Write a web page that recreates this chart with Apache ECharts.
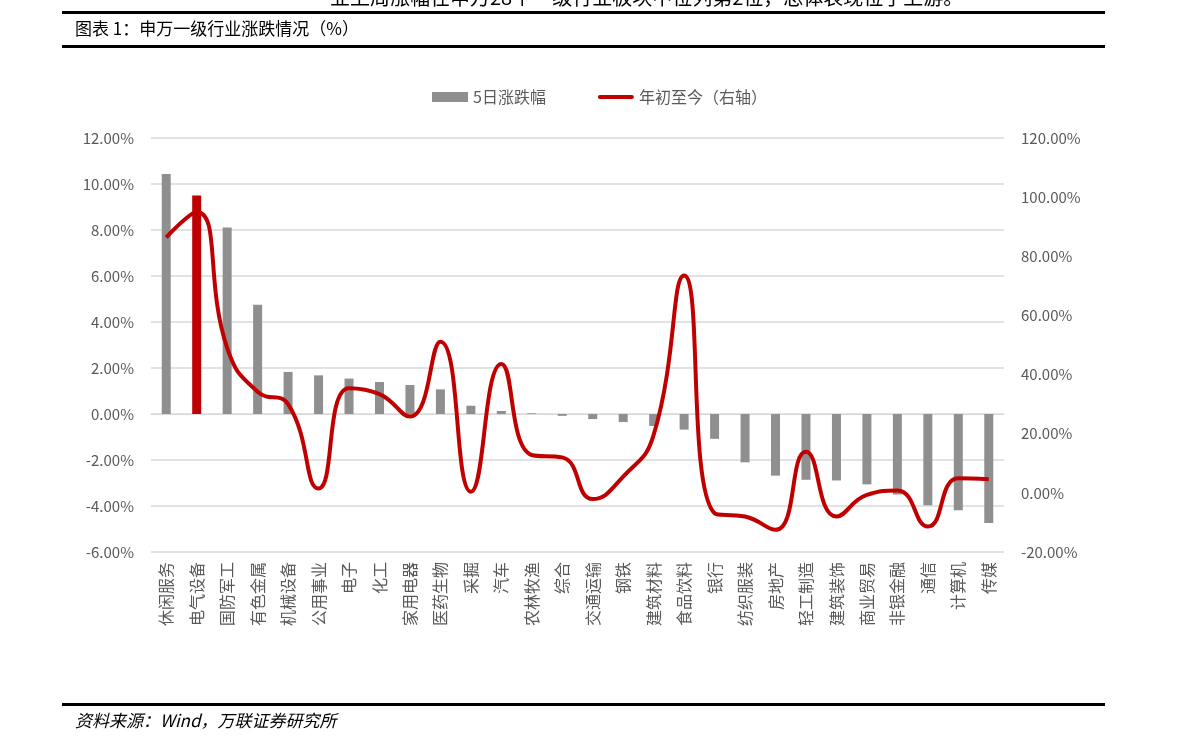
<!DOCTYPE html>
<html>
<head>
<meta charset="utf-8">
<script src="https://cdn.jsdelivr.net/npm/echarts@6/dist/echarts.min.js"></script>
<style>
html,body{margin:0;padding:0;background:#fff;}
#c{width:1191px;height:753px;}
</style>
</head>
<body>
<div id="c"></div>
<script>
const categories = ['休闲服务','电气设备','国防军工','有色金属','机械设备','公用事业','电子','化工','家用电器','医药生物','采掘','汽车','农林牧渔','综合','交通运输','钢铁','建筑材料','食品饮料','银行','纺织服装','房地产','轻工制造','建筑装饰','商业贸易','非银金融','通信','计算机','传媒'];
const weekChange = [10.43,9.50,8.11,4.75,1.83,1.68,1.54,1.39,1.26,1.07,0.36,0.13,0.03,-0.08,-0.22,-0.35,-0.52,-0.68,-1.08,-2.10,-2.68,-2.86,-2.89,-3.06,-3.50,-3.97,-4.19,-4.74];
const ytdChange = [86.4,95.0,49.0,34.2,30.0,1.5,35.4,33.4,25.8,51.1,0.4,43.6,12.8,12.0,-2.1,5.5,19.6,73.5,-6.9,-8.0,-12.5,13.9,-8.0,-0.7,0.8,-11.4,4.9,4.6];
const leftTicks = {min:-6, max:12, interval:2};
const rightTicks = {min:-20, max:120, interval:20};
const highlightIndex = 1;

const chart = echarts.init(document.getElementById('c'));
const txt = '#595959';
chart.setOption({
  animation:false,
  backgroundColor:'#fff',
  textStyle:{fontFamily:'"Noto Sans CJK SC", "Open Sans", sans-serif'},
  graphic:[
    {type:'text', left:330, top:-13, style:{text:'业上周涨幅在申万28个一级行业板块中位列第2位，总体表现位于上游。', fontSize:20, fill:'#000', fontFamily:'"Noto Sans CJK SC"'}},
    {type:'rect', shape:{x:62,y:11,width:1043,height:3}, style:{fill:'#000'}},
    {type:'text', left:75, top:20, style:{text:'图表 1：申万一级行业涨跌情况（%）', fontSize:17, fill:'#000', fontFamily:'"Noto Sans CJK SC"'}},
    {type:'rect', shape:{x:62,y:45,width:1043,height:3}, style:{fill:'#000'}},
    {type:'rect', shape:{x:62,y:703,width:1043,height:3}, style:{fill:'#000'}},
    {type:'text', left:75, top:712, style:{text:'资料来源：Wind，万联证券研究所', fontSize:17, fill:'#000', fontStyle:'italic', fontFamily:'"Noto Sans CJK SC"'}}
  ],
  legend:{
    top:84, left:427, itemGap:52, itemWidth:36, itemHeight:10,
    textStyle:{color:txt, fontSize:16},
    data:[
      {name:'5日涨跌幅', icon:'rect'},
      {name:'年初至今（右轴）', icon:'path://M0,0 L0,0 M2,3 L34,3 A2,2 0 0 1 34,7 L2,7 A2,2 0 0 1 2,3 Z M36,10 L36,10'}
    ]
  },
  grid:{left:151, right:187, top:138, bottom:201},
  xAxis:{
    type:'category', data:categories,
    axisLine:{show:true, lineStyle:{color:'#d9d9d9'}},
    axisTick:{show:false},
    axisLabel:{rotate:90, color:txt, fontSize:16, margin:10, interval:0}
  },
  yAxis:[
    {type:'value', min:leftTicks.min, max:leftTicks.max, interval:leftTicks.interval,
     axisLine:{show:false}, axisTick:{show:false},
     splitLine:{lineStyle:{color:'#d9d9d9', width:1.5}},
     axisLabel:{color:txt, fontSize:15, margin:17, formatter:v=>v.toFixed(2)+'%'}},
    {type:'value', min:rightTicks.min, max:rightTicks.max, interval:rightTicks.interval,
     axisLine:{show:false}, axisTick:{show:false}, splitLine:{show:false},
     axisLabel:{color:txt, fontSize:15, margin:17, formatter:v=>v.toFixed(2)+'%'}}
  ],
  series:[
    {name:'5日涨跌幅', type:'bar', yAxisIndex:0, barWidth:9,
     itemStyle:{color:'#8f8f8f'},
     data:weekChange.map((v,i)=> i===highlightIndex ? {value:v, itemStyle:{color:'#c00000'}} : v)},
    {name:'年初至今（右轴）', type:'line', yAxisIndex:1, smooth:0.5, symbol:'none',
     lineStyle:{color:'#c00000', width:4}, itemStyle:{color:'#c00000'},
     data:ytdChange}
  ]
});
</script>
</body>
</html>
